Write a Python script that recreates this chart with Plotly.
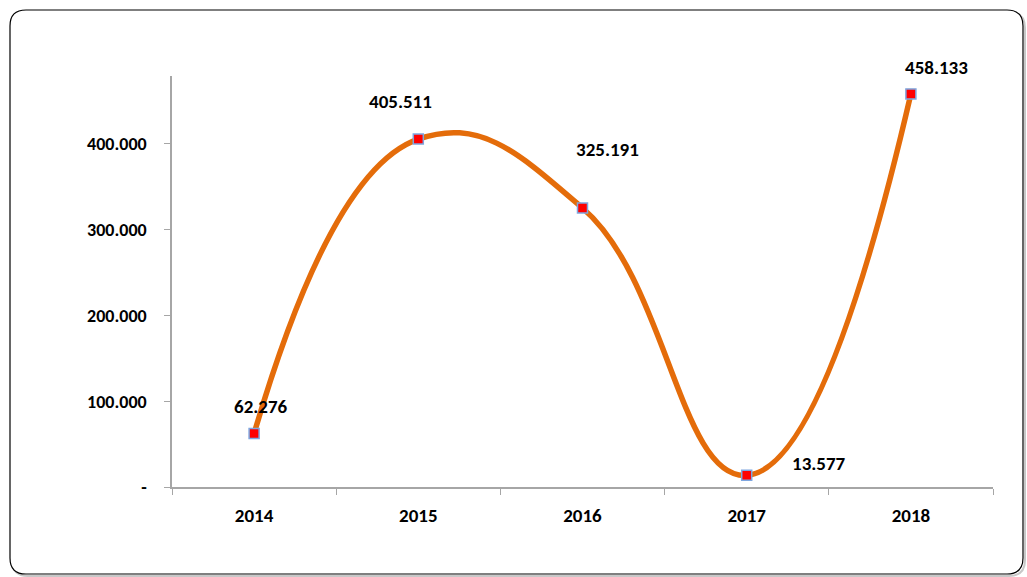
import plotly.graph_objects as go

# ── Data ─────────────────────────────────────────────────────────────────
YEARS = ["2014", "2015", "2016", "2017", "2018"]
VALUES = [62276, 405511, 325191, 13577, 458133]
LABELS = ["62.276", "405.511", "325.191", "13.577", "458.133"]
Y_TICKS = [0, 100000, 200000, 300000, 400000]
Y_TICK_TEXT = ["-", "100.000", "200.000", "300.000", "400.000"]

# label offsets (px) relative to each marker
LABEL_SHIFT = [(7, 27), (-18, 38), (25, 58), (72, 12), (26, 26)]

FONT = "Calibri, Carlito, Lato, sans-serif"
ORANGE = "#E46C0A"
AXIS = "#A6A6A6"

W, H = 1027, 577
L, R, T, B = 172, 34, 76, 90
PW, PH = W - L - R, H - T - B


def px_x(x):
    return (x - L) / PW


def px_y(y):
    return (H - B - y) / PH


def rounded_box(x0, y0, x1, y1, r):
    # path in paper coords from a pixel box with rounded corners
    rx, ry = r / PW, r / PH
    a, b, c, d = px_x(x0), px_x(x1), px_y(y0), px_y(y1)  # c top, d bottom
    return (f"M {a + rx},{c} L {b - rx},{c} Q {b},{c} {b},{c - ry} "
            f"L {b},{d + ry} Q {b},{d} {b - rx},{d} L {a + rx},{d} "
            f"Q {a},{d} {a},{d + ry} L {a},{c - ry} Q {a},{c} {a + rx},{c} Z")


fig = go.Figure()
fig.add_trace(go.Scatter(
    x=YEARS, y=VALUES,
    mode="lines+markers",
    line=dict(color=ORANGE, width=5.5, shape="spline", smoothing=1.3),
    marker=dict(symbol="square", size=10, color="#FF0000",
                line=dict(color="#7EA6E0", width=1.5)),
    hoverinfo="x+y",
    showlegend=False,
))

# category axis: place annotations by category index
for i, (v, lab, (dx, dy)) in enumerate(zip(VALUES, LABELS, LABEL_SHIFT)):
    fig.add_annotation(x=i, y=v, text=f"<b>{lab}</b>", showarrow=False,
                       xshift=dx, yshift=dy,
                       font=dict(family=FONT, size=19, color="#000000"))

# outer chart border with a soft shadow
fig.add_shape(type="path", xref="paper", yref="paper",
              path=rounded_box(12, 12, 1025, 576, 16),
              line=dict(color="#C8C8C8", width=2), layer="below")
fig.add_shape(type="path", xref="paper", yref="paper",
              path=rounded_box(10, 10, 1023, 574, 16),
              line=dict(color="#000000", width=1.2), fillcolor="white",
              layer="below")

fig.update_layout(
    width=W, height=H,
    margin=dict(l=L, r=R, t=T, b=B),
    paper_bgcolor="white",
    plot_bgcolor="rgba(0,0,0,0)",
    font=dict(family=FONT, size=18, color="#000000"),
)
fig.update_xaxes(
    type="category", range=[-0.5, 4.5],
    tickson="boundaries", ticks="outside", ticklen=6, tickcolor=AXIS,
    showline=True, linecolor=AXIS, linewidth=1.5,
    showgrid=False, zeroline=False,
    tickfont=dict(family=FONT, size=19), ticklabelstandoff=10,
    tickprefix="<b>", ticksuffix="</b>",
)
fig.update_yaxes(
    range=[0, 479000],
    tickvals=Y_TICKS, ticktext=[f"<b>{t}</b>" for t in Y_TICK_TEXT],
    ticks="outside", ticklen=6, tickcolor=AXIS,
    showline=True, linecolor=AXIS, linewidth=1.5,
    showgrid=False, zeroline=False,
    tickfont=dict(family=FONT, size=18), ticklabelstandoff=14,
)

# drop the default page margin so the figure sits at the window origin
fig.write_html("out.html", config={"displayModeBar": False},
               post_script="document.body.style.margin='0px';")
